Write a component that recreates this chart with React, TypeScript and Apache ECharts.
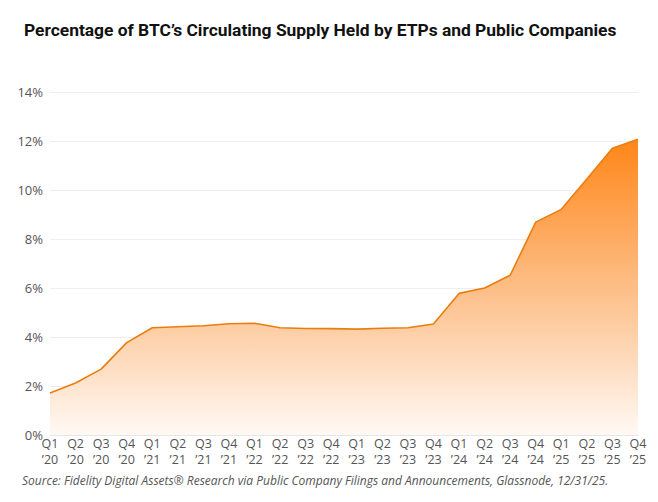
import { useEffect, useRef } from "react";
import * as echarts from "echarts";

const quarters = [
  "Q1\n’20", "Q2\n’20", "Q3\n’20", "Q4\n’20",
  "Q1\n’21", "Q2\n’21", "Q3\n’21", "Q4\n’21",
  "Q1\n’22", "Q2\n’22", "Q3\n’22", "Q4\n’22",
  "Q1\n’23", "Q2\n’23", "Q3\n’23", "Q4\n’23",
  "Q1\n’24", "Q2\n’24", "Q3\n’24", "Q4\n’24",
  "Q1\n’25", "Q2\n’25", "Q3\n’25", "Q4\n’25",
];

// % of circulating BTC held by ETPs + public companies
const heldPct = [
  1.71, 2.12, 2.69, 3.77,
  4.38, 4.42, 4.46, 4.54,
  4.56, 4.38, 4.35, 4.34,
  4.32, 4.36, 4.38, 4.53,
  5.78, 6.0, 6.52, 8.69,
  9.21, 10.45, 11.7, 12.07,
];

const TITLE = "Percentage of BTC’s Circulating Supply Held by ETPs and Public Companies";
const SOURCE =
  "Source: Fidelity Digital Assets® Research via Public Company Filings and Announcements, Glassnode, 12/31/25.";

const FONT = "'Open Sans', 'Noto Sans', sans-serif";
const TITLE_FONT = "'Roboto', sans-serif";

export default function App() {
  const ref = useRef<HTMLDivElement>(null);

  useEffect(() => {
    if (!ref.current) return;
    const chart = echarts.init(ref.current, undefined, { renderer: "svg" });
    chart.setOption({
      animation: false,
      textStyle: { fontFamily: FONT },
      title: [
        {
          text: TITLE,
          left: 19,
          top: 16,
          textStyle: { fontSize: 17.4, fontWeight: "bold", color: "#111", fontFamily: TITLE_FONT },
        },
        {
          text: SOURCE,
          left: 17,
          top: 469,
          textStyle: {
            fontSize: 12,
            fontWeight: "normal",
            fontStyle: "italic",
            color: "#555",
            fontFamily: FONT,
          },
        },
      ],
      grid: { left: 50, right: 20, top: 92, bottom: 67, containLabel: false },
      xAxis: {
        type: "category",
        data: quarters,
        boundaryGap: false,
        axisLine: { show: true, lineStyle: { color: "#e6e6e6" } },
        axisTick: { show: false },
        axisLabel: {
          color: "#555",
          fontSize: 12.5,
          lineHeight: 16,
          margin: 0,
          interval: 0,
        },
      },
      yAxis: {
        type: "value",
        min: 0,
        max: 14,
        interval: 2,
        axisLine: { show: false },
        axisTick: { show: false },
        axisLabel: {
          color: "#555",
          fontSize: 13,
          margin: 7,
          formatter: "{value}%",
        },
        splitLine: { lineStyle: { color: "#eeeeee" } },
      },
      series: [
        {
          type: "line",
          data: heldPct,
          symbol: "none",
          lineStyle: { color: "#ea7d10", width: 1.6 },
          areaStyle: {
            opacity: 1,
            color: new echarts.graphic.LinearGradient(0, 0, 0, 1, [
              { offset: 0, color: "#ff8618" },
              { offset: 0.6, color: "#fdc99c" },
              { offset: 1, color: "#fff9f4" },
            ]),
          },
        },
      ],
    });
    return () => chart.dispose();
  }, []);

  return (
    <div
      ref={ref}
      style={{ position: "absolute", left: 0, top: 0, width: 658, height: 502, background: "#fff" }}
    />
  );
}
